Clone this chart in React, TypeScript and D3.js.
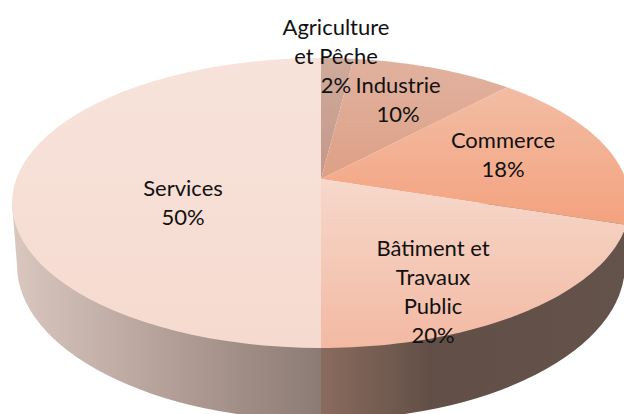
import React from "react";
import * as d3 from "d3";

const categories = ["Agriculture et Pêche", "Industrie", "Commerce", "Bâtiment et Travaux Public", "Services"];
const shares = [2, 10, 18, 20, 50];
const labelLines = [["Agriculture", "et Pêche", "2%"], ["Industrie", "10%"], ["Commerce", "18%"], ["Bâtiment et", "Travaux", "Public", "20%"], ["Services", "50%"]];
const labelCentres = [[336, 17], [398, 75], [503, 130], [433, 238], [183, 178]];
const gradients = [["#CFAB9C", "#C4978A"], ["#E1B2A0", "#DDA085"], ["#F2BDA4", "#F4A27F"], ["#F6D8CB", "#F3B9A3"], ["#F7E3DB", "#F6DACF"]];

const width = 624;
const height = 414;
// pie tilted in perspective: the apex sits above the centre of the rim ellipse
const apex = { x: 321, y: 179 };
const rimA = 304.7;
const rimB = 141;
const tilt = -0.1655;
const depth = { cx: 321, cy: 265, rx: 304, ry: 155 };

const project = (angle: number): [number, number] => {
  const ux = Math.sin(angle);
  const uy = -Math.cos(angle);
  const w = 1 + tilt * uy;
  return [apex.x + (rimA * ux) / w, apex.y + (rimB * uy) / w];
};

export default function App() {
  const slices = d3.pie<number>().sort(null)(shares);
  const line = d3.line();

  const slicePath = (start: number, end: number) => {
    const angles = d3.range(0, 61).map((i) => start + ((end - start) * i) / 60);
    const pts: [number, number][] = [[apex.x, apex.y], ...angles.map(project)];
    return line(pts) + "Z";
  };

  const rimLeft = project((3 * Math.PI) / 2 - 0.17);
  const rimRight = project(Math.PI / 2 + 0.17);
  const sidePath = `M${rimLeft[0]},${rimLeft[1]} L${depth.cx - depth.rx},${depth.cy} A${depth.rx},${depth.ry} 0 0 0 ${depth.cx + depth.rx},${depth.cy} L${rimRight[0]},${rimRight[1]} Z`;

  return (
    <svg
      width={width}
      height={height}
      viewBox={`0 0 ${width} ${height}`}
      style={{ position: "absolute", left: 0, top: 0, background: "#fff" }}
      fontFamily="Lato, 'Open Sans', sans-serif"
    >
      <defs>
        <clipPath id="left-half">
          <rect x={0} y={0} width={apex.x} height={height} />
        </clipPath>
        <clipPath id="right-half">
          <rect x={apex.x} y={0} width={width - apex.x} height={height} />
        </clipPath>
        <linearGradient id="side-left" gradientUnits="userSpaceOnUse" x1={12} x2={apex.x} y1="0" y2="0">
          <stop offset="0" stopColor="#D9C7C0" />
          <stop offset="0.58" stopColor="#AE9A92" />
          <stop offset="1" stopColor="#8B7B74" />
        </linearGradient>
        <linearGradient id="side-right" gradientUnits="userSpaceOnUse" x1={apex.x} x2={width} y1="0" y2="0">
          <stop offset="0" stopColor="#8A6C5E" />
          <stop offset="0.36" stopColor="#624F47" />
          <stop offset="1" stopColor="#64534B" />
        </linearGradient>
        {gradients.map((g, i) => (
          <linearGradient key={i} id={`slice-${i}`} x1="0" x2="0" y1="0" y2="1">
            <stop offset="0" stopColor={g[0]} />
            <stop offset="1" stopColor={g[1]} />
          </linearGradient>
        ))}
      </defs>

      <g>
        <path d={sidePath} fill="url(#side-left)" clipPath="url(#left-half)" />
        <path d={sidePath} fill="url(#side-right)" clipPath="url(#right-half)" />
      </g>

      <g>
        {slices.map((s, i) => (
          <path key={categories[i]} d={slicePath(s.startAngle, s.endAngle)} fill={`url(#slice-${i})`} />
        ))}
      </g>

      <g fontSize={22} fill="#111" textAnchor="middle">
        {labelLines.map((lines, i) => (
          <text key={categories[i]} x={labelCentres[i][0]} y={labelCentres[i][1]} dominantBaseline="hanging">
            {lines.map((t, j) => (
              <tspan key={j} x={labelCentres[i][0]} dy={j === 0 ? 0 : 29}>
                {t}
              </tspan>
            ))}
          </text>
        ))}
      </g>
    </svg>
  );
}
